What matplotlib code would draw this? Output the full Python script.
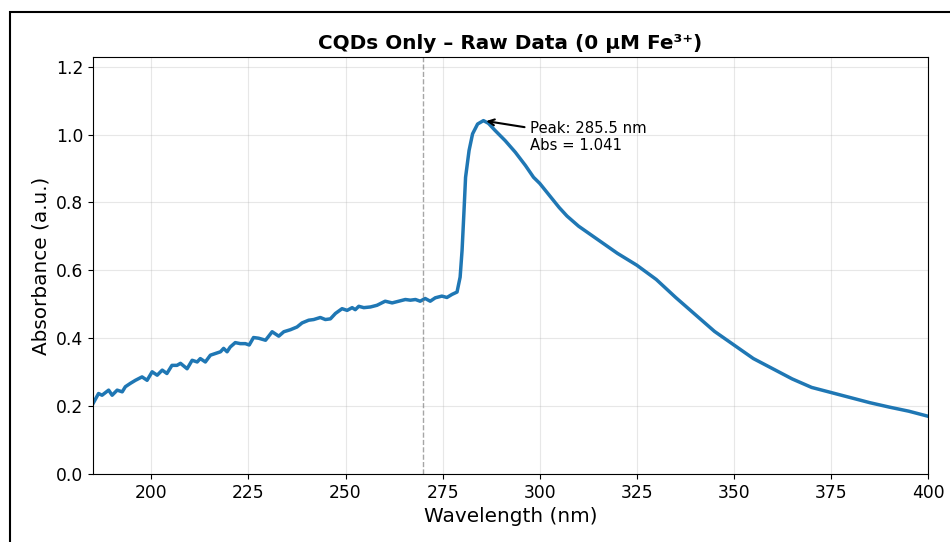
import numpy as np
import matplotlib
matplotlib.use("Agg")
import matplotlib.pyplot as plt
from matplotlib.patches import Rectangle

# wavelength (nm) and absorbance
wavelength = [
    185.0, 186.4, 187.3, 189.0, 189.9, 191.2, 192.5, 193.3, 194.6, 195.9,
    197.6, 198.9, 200.2, 201.5, 202.8, 204.0, 205.3, 206.6, 207.5, 209.2,
    210.5, 211.8, 212.6, 213.9, 215.2, 216.5, 217.8, 218.6, 219.5, 220.3,
    221.6, 222.9, 224.2, 225.2, 226.3, 227.6, 229.4, 231.1, 232.8, 234.1,
    235.8, 237.5, 238.8, 240.5, 241.8, 243.5, 244.8, 246.1, 247.4, 249.1,
    250.4, 251.7, 252.5, 253.4, 254.7, 256.4, 258.1, 260.2, 262.0, 263.7,
    265.4, 266.7, 268.0, 269.2, 270.5, 271.8, 273.1, 274.8, 276.1, 277.4,
    278.7, 279.5, 280.0, 280.5, 280.9, 281.8, 282.7, 284.0, 285.5, 286.8,
    288.5, 291.1, 293.7, 296.3, 298.4, 300.0, 305.0, 307.0, 310.0, 315.0,
    320.0, 325.0, 330.0, 335.0, 340.0, 345.0, 350.0, 355.0, 360.0, 365.0,
    370.0, 375.0, 380.0, 385.0, 390.0, 395.0, 400.0,
]
absorbance = [
    0.208, 0.237, 0.232, 0.247, 0.232, 0.247, 0.242, 0.257, 0.267, 0.276,
    0.286, 0.276, 0.301, 0.291, 0.306, 0.296, 0.320, 0.320, 0.326, 0.310,
    0.335, 0.330, 0.340, 0.330, 0.350, 0.355, 0.360, 0.370, 0.360, 0.374,
    0.387, 0.384, 0.384, 0.380, 0.402, 0.400, 0.394, 0.419, 0.406, 0.419,
    0.425, 0.433, 0.445, 0.453, 0.455, 0.461, 0.455, 0.457, 0.473, 0.487,
    0.482, 0.490, 0.484, 0.494, 0.490, 0.492, 0.497, 0.509, 0.504, 0.509,
    0.514, 0.512, 0.514, 0.509, 0.517, 0.509, 0.519, 0.524, 0.520, 0.529,
    0.536, 0.580, 0.659, 0.776, 0.874, 0.953, 1.002, 1.031, 1.041, 1.033,
    1.012, 0.982, 0.948, 0.909, 0.874, 0.856, 0.785, 0.760, 0.730, 0.690,
    0.650, 0.615, 0.573, 0.520, 0.470, 0.420, 0.380, 0.340, 0.310, 0.280,
    0.255, 0.240, 0.225, 0.210, 0.197, 0.185, 0.170,
]
cutoff_nm = 270

wl = np.array(wavelength)
ab = np.array(absorbance)
i_peak = int(np.argmax(ab))
peak_wl, peak_abs = wl[i_peak], ab[i_peak]

fig = plt.figure(figsize=(9.5, 5.42), dpi=100)
ax = fig.add_axes([0.098, 0.1255, 0.879, 0.7693])

ax.plot(wl, ab, color="#1f77b4", linewidth=2.5)
ax.axvline(cutoff_nm, color="gray", linestyle="--", linewidth=1, alpha=0.7)

ax.annotate(f"Peak: {peak_wl:.1f} nm\nAbs = {peak_abs:.3f}",
            xy=(peak_wl, peak_abs), xytext=(peak_wl + 12, peak_abs - 0.088),
            fontsize=10.7, arrowprops=dict(arrowstyle="->", color="black", lw=1.5))

ax.set_xlim(185, 400)
ax.set_ylim(0, peak_abs * 1.18)
ax.set_title("CQDs Only – Raw Data (0 µM Fe³⁺)", fontsize=14.4, fontweight="bold")
ax.set_xlabel("Wavelength (nm)", fontsize=14.4)
ax.set_ylabel("Absorbance (a.u.)", fontsize=14.4)
ax.tick_params(labelsize=12.3)
ax.grid(True, alpha=0.3)

# black frame around the figure (cropped on the right/bottom in the reference)
fig.patches.append(Rectangle((9.5 / 950, -0.1), 1.2, 1.1 - 12 / 542,
                             transform=fig.transFigure, fill=False,
                             edgecolor="black", linewidth=1.5))

fig.savefig("out.png", dpi=100)
